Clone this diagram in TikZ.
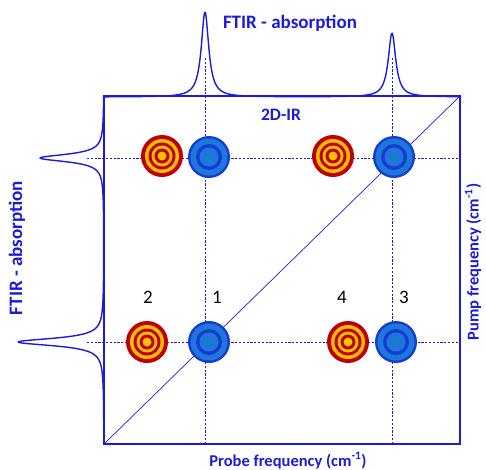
\documentclass[tikz,border=0pt]{standalone}
\usepackage{fontspec}
\setmainfont{Carlito}
\usetikzlibrary{positioning}

\definecolor{irblue}{RGB}{28,28,215}
\definecolor{ringred}{RGB}{192,0,0}
\definecolor{ringyellow}{RGB}{255,192,0}
\definecolor{darkdisc}{RGB}{22,60,215}
\definecolor{lightdisc}{RGB}{30,120,215}

\tikzset{
  frame/.style={irblue, line width=2.6pt},
  guide/.style={irblue, line width=0.8pt, dash pattern=on 2.2pt off 1.6pt},
  spectrum/.style={irblue, line width=1.4pt, line join=round},
  axislabel/.style={irblue, font=\bfseries\fontsize{16.5}{18}\selectfont},
  ftirlabel/.style={irblue, font=\bfseries\fontsize{19}{21}\selectfont},
  peaklabel/.style={font=\fontsize{19}{21}\selectfont},
}

% concentric rings, yellow/red and blue
\newcommand{\redspot}[1]{%
  \foreach \r/\c in {21/ringred,17/ringyellow,13.5/ringred,10.5/ringyellow,7.5/ringred,4.5/ringyellow}
    \fill[\c] (#1) circle (\r pt);}
\newcommand{\bluespot}[1]{%
  \foreach \r/\c in {21/darkdisc,18.5/lightdisc,13/darkdisc,9.5/lightdisc}
    \fill[\c] (#1) circle (\r pt);}

\begin{document}
\begin{tikzpicture}[x=1pt, y=-1pt]

\useasboundingbox (0,0) rectangle (486,469);

% Define points
\path
(104,444) coordinate (SW)
(460,96) coordinate (NE)
(205,58) coordinate (probeA)
(392,58) coordinate (probeB)
(87,158) coordinate (pumpA)
(87,342) coordinate (pumpB)
(162,156) coordinate (r1)
(209,157) coordinate (b1)
(333,156) coordinate (r2)
(394,157) coordinate (b2)
(147,342) coordinate (r3)
(209,342) coordinate (b3)
(348,342) coordinate (r4)
(396,342) coordinate (b4)
;

% Guide lines
\draw[guide] (probeA) -- (probeA |- SW);
\draw[guide] (probeB) -- (probeB |- SW);
\draw[guide] (pumpA) -- (pumpA -| NE);
\draw[guide] (pumpB) -- (pumpB -| NE);
\draw[irblue, line width=0.7pt] (SW) -- (NE);

% Spots
\redspot{r1} \bluespot{b1}
\redspot{r2} \bluespot{b2}
\redspot{r3} \bluespot{b3}
\redspot{r4} \bluespot{b4}

% Spectra
\draw[spectrum] plot[domain=104:460, samples=500, smooth]
  (\x, {97 - 85/(1+((\x-205)/4.5)^2) - 64/(1+((\x-392)/4.5)^2)});
\draw[spectrum] plot[domain=96:444, samples=500, smooth]
  ({104 - 64/(1+((\x-158)/4.5)^2) - 86/(1+((\x-342)/4.5)^2)}, \x);

\draw[frame] (SW) rectangle (NE);

% Labels
\path
(290,28) node[ftirlabel, anchor=base] (topftir) {FTIR - absorption}
(281,115) node[axislabel, font=\bfseries\fontsize{17.5}{19}\selectfont] (twod) {2D-IR}
(288,466) node[axislabel, anchor=base] (probe) {Probe frequency (cm\textsuperscript{-1})}
(17,248) node[ftirlabel, rotate=90] (leftftir) {FTIR - absorption}
(473,262) node[axislabel, rotate=90] (pump) {Pump frequency (cm\textsuperscript{-1})}
;
\path
(148,297) node[peaklabel] (n2) {2}
(217,297) node[peaklabel] (n1) {1}
(342,297) node[peaklabel] (n4) {4}
(404,297) node[peaklabel] (n3) {3}
;

\end{tikzpicture}
\end{document}
